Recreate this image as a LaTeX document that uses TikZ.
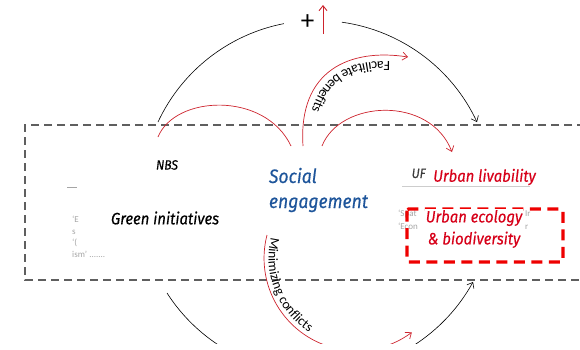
\documentclass[tikz,border=0pt]{standalone}
\usepackage{fontspec}
\setmainfont{Carlito}
\newfontfamily\labfont{Fira Sans}[FakeStretch=0.9, FakeBold=0.35]
\newfontfamily\carfont{Carlito}
\usetikzlibrary{arrows.meta,decorations.text}
\definecolor{arcred}{RGB}{205,35,45}
\definecolor{labred}{RGB}{215,0,25}
\definecolor{boxred}{RGB}{238,0,0}
\definecolor{socblue}{RGB}{30,85,155}
\definecolor{dashgray}{RGB}{95,95,95}
\definecolor{faint}{RGB}{165,165,165}
\definecolor{ufgray}{RGB}{60,60,60}
\tikzset{
  lab/.style={font=\labfont\itshape\fontsize{#1}{#1}\selectfont, inner sep=1pt},
  lab/.default=16,
  frame/.style={draw=dashgray, line width=1.5pt, dash pattern=on 8pt off 5pt},
  bkarc/.style={draw=black, line width=0.6pt},
  rdarc/.style={draw=arcred, line width=0.7pt},
  tipk/.style={-{Straight Barb[length=5pt,width=8pt]}},
  faintt/.style={font=\carfont\fontsize{9}{9}\selectfont, text=faint, inner sep=0pt, anchor=base west},
}
\begin{document}
\begin{tikzpicture}[x=1pt,y=-1pt]
\useasboundingbox (0,0) rectangle (580,349);

% dashed frame
\draw[frame] (585,125) -- (25,125) -- (25,280) -- (585,280);

% faint leftover fragments
\draw[faint, line width=0.6pt] (67,187) -- (77,187);
\node[faintt] (f1) at (72,222) {‘E};
\node[faintt] (f2) at (72,234) {s};
\node[faintt] (f3) at (72,245) {‘(};
\node[faintt] (f4) at (72,257) {ism’ .......};
\node[faintt] (f5) at (398,216) {‘Spat};
\node[faintt] (f6) at (398,229) {‘Econ};
\node[faintt] (f7) at (525,216) {Ir};
\node[faintt] (f8) at (525,229) {r};
\draw[draw={rgb,255:red,205;green,205;blue,205}, line width=0.8pt] (402,186.5) -- (530,186.5);
\node[font=\labfont\itshape\fontsize{13.5}{14}\selectfont, text=ufgray, inner sep=0pt, anchor=base west] (uf) at (411.5,178) {UF};

% red dashed box
\draw[boxred, line width=3.2pt, dash pattern=on 11pt off 6.5pt, rounded corners=1.5pt] (407,209) rectangle (563,262);

% coordinates
\coordinate (tl) at (158,122);
\coordinate (tr) at (342,22.2);
\coordinate (bl) at (167,293);
\coordinate (br) at (406.8,349.6);
\coordinate (r1s) at (158,137);
\coordinate (r1e) at (291,146);
\coordinate (fs) at (303,146);
\coordinate (fe) at (408,57);
\coordinate (fts) at (309,146);
\coordinate (fte) at (407,63);
\coordinate (r3s) at (322,146);
\coordinate (r3e) at (452,152);
\coordinate (ms) at (267,235);
\coordinate (mts) at (271.4,236.2);
\coordinate (ub) at (323,34);
\coordinate (ut) at (323,5);

% black big loop
\draw[bkarc] (tl) arc[start angle=155, end angle=101, radius=176pt];
\draw[bkarc, tipk] (tr) arc[start angle=82, end angle=25, radius=176pt];
\begin{scope}
\clip (0,0) rectangle (580,343);
\draw[bkarc] (bl) arc[start angle=212.7, end angle=245, radius=176pt];
\draw[bkarc, tipk] (br) arc[start angle=-60, end angle=-28.8, radius=176pt];
\draw[rdarc, tipk] (ms) arc[start angle=165.5, end angle=306.7, radius=92.5pt];
\end{scope}
\path[decorate, decoration={text along path, raise=0pt,
  text align={left indent=1pt},
  text={|\carfont\fontsize{13.5}{14}\selectfont|Minimizing conflicts}}]
  (mts) arc[start angle=165.5, end angle=300, radius=88pt];

% red arcs
\draw[rdarc] (r1s) .. controls +(17,-42) and +(-26,-55) .. (r1e);
\draw[rdarc, tipk] (fs) .. controls (298,70) and (350,48) .. (fe);
\path[decorate, decoration={text along path, raise=0pt,
  text align={left indent=17pt},
  text={|\carfont\fontsize{14}{14}\selectfont|Facilitate benefits}}]
  (fte) .. controls (351,55) and (305,76) .. (fts);
\draw[rdarc, tipk] (r3s) .. controls (340,100) and (430,95) .. (r3e);

% plus and up arrow
\node[font=\carfont\fontsize{27}{27}\selectfont, inner sep=0pt] (plus) at (307.5,22) {+};
\draw[draw=arcred, line width=0.9pt, tipk] (ub) -- (ut);

% labels
\node[lab=13.5] (nbs) at (167,165) {NBS};
\node[lab=16.5] (gi) at (165,218) {Green initiatives};
\node[lab=19.5, text=socblue, align=left, fill=white, inner xsep=6pt, inner ysep=21pt,
      font=\labfont\itshape\fontsize{19.5}{25}\selectfont] (soc) at (318.5,190) {Social\\engagement};
\node[lab=16.5, text=labred, fill=white] (ul) at (484.5,177) {Urban livability};
\node[lab=16.5, text=labred, fill=white, align=center,
      font=\labfont\itshape\fontsize{16.5}{22}\selectfont] (ue) at (474,229) {Urban ecology\\\& biodiversity};
\end{tikzpicture}
\end{document}
